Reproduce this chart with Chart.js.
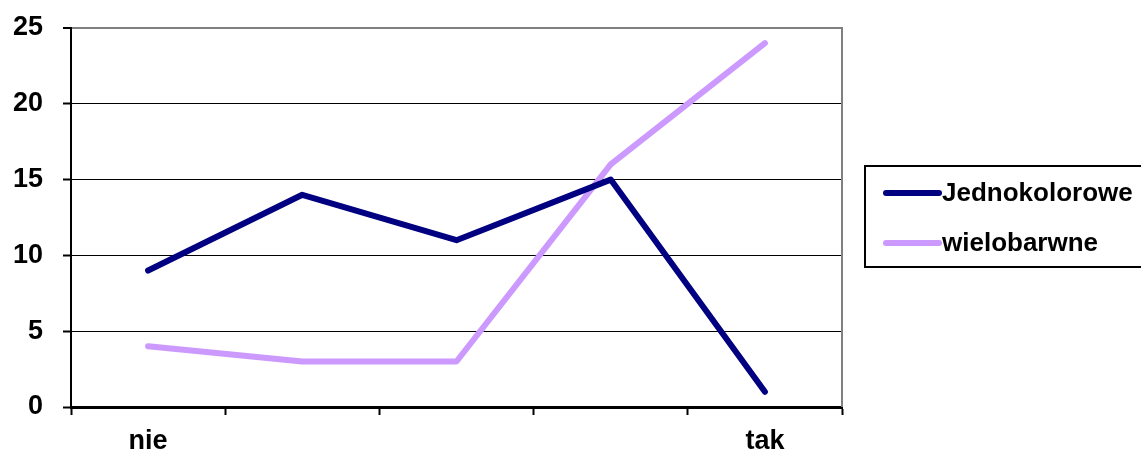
<!DOCTYPE html>
<html>
<head>
<meta charset="utf-8">
<script src="https://cdn.jsdelivr.net/npm/chart.js@4/dist/chart.umd.min.js"></script>
<style>
  html, body { margin: 0; padding: 0; background: #fff; }
  canvas { display: block; }
</style>
</head>
<body>
<canvas id="chart" width="1141" height="454"></canvas>
<script>
const categories = ['nie', '', '', '', 'tak'];
const jednokolorowe = [9, 14, 11, 15, 1];
const wielobarwne = [4, 3, 3, 16, 24];
const yTicks = [0, 5, 10, 15, 20, 25];

const FONT = '"Liberation Sans", Arial, sans-serif';

// legend box + right border, drawn by hand to match the old Excel look
const frame = {
    id: 'frame',
    afterDraw(chart) {
        const c = chart.ctx;
        const a = chart.chartArea;
        c.save();
        c.strokeStyle = '#808080';
        c.lineWidth = 2;
        c.beginPath();
        c.moveTo(a.right, a.top - 1);
        c.lineTo(a.right, a.bottom);
        c.stroke();

        c.strokeStyle = '#000';
        c.lineWidth = 2;
        c.strokeRect(865, 166, 300, 101);

        c.font = 'bold 26px ' + FONT;
        c.textBaseline = 'middle';
        c.lineCap = 'round';
        chart.data.datasets.forEach((ds, i) => {
            const y = 193 + i * 50;
            c.strokeStyle = ds.borderColor;
            c.lineWidth = 6;
            c.beginPath();
            c.moveTo(886, y);
            c.lineTo(939, y);
            c.stroke();
            c.fillStyle = '#000';
            c.fillText(ds.label, 942, y + 1);
        });
        c.restore();
    }
};

const chart = new Chart(document.getElementById('chart').getContext('2d'), {
    type: 'line',
    data: {
        labels: categories,
        datasets: [
            {
                label: 'Jednokolorowe',
                data: jednokolorowe,
                borderColor: '#000080',
                borderWidth: 6,
                pointRadius: 0,
                borderCapStyle: 'round',
                borderJoinStyle: 'round',
                tension: 0
            },
            {
                label: 'wielobarwne',
                data: wielobarwne,
                borderColor: '#CC99FF',
                borderWidth: 6,
                pointRadius: 0,
                borderCapStyle: 'round',
                borderJoinStyle: 'round',
                tension: 0
            }
        ]
    },
    options: {
        responsive: false,
        animation: false,
        layout: { padding: { top: 28, right: 299, left: 0, bottom: 0 } },
        plugins: {
            legend: { display: false },
            tooltip: { enabled: false }
        },
        scales: {
            x: {
                offset: true,
                afterFit: (s) => { s.height = 47; s.paddingLeft = 0; s.paddingRight = 0; },
                grid: {
                    offset: true,
                    drawOnChartArea: false,
                    tickLength: 8,
                    tickColor: '#000',
                    tickWidth: 2
                },
                border: { color: '#000', width: 3 },
                ticks: {
                    color: '#000',
                    padding: 10,
                    maxRotation: 0,
                    autoSkip: false,
                    font: { family: FONT, size: 27, weight: 'bold' }
                }
            },
            y: {
                min: 0,
                max: 25,
                afterFit: (s) => { s.width = 71; s.paddingTop = 0; s.paddingBottom = 0; },
                afterBuildTicks: (s) => { s.ticks = yTicks.map(v => ({ value: v })); },
                grid: {
                    color: (ctx) => ctx.tick && ctx.tick.value === 25 ? '#808080' : '#000',
                    lineWidth: (ctx) => ctx.tick && ctx.tick.value === 25 ? 2 : 1,
                    tickLength: 8,
                    tickColor: '#000',
                    tickWidth: 2
                },
                border: { color: '#000', width: 2 },
                ticks: {
                    color: '#000',
                    padding: 20,
                    font: { family: FONT, size: 27, weight: 'bold' }
                }
            }
        }
    },
    plugins: [frame]
});
</script>
</body>
</html>
